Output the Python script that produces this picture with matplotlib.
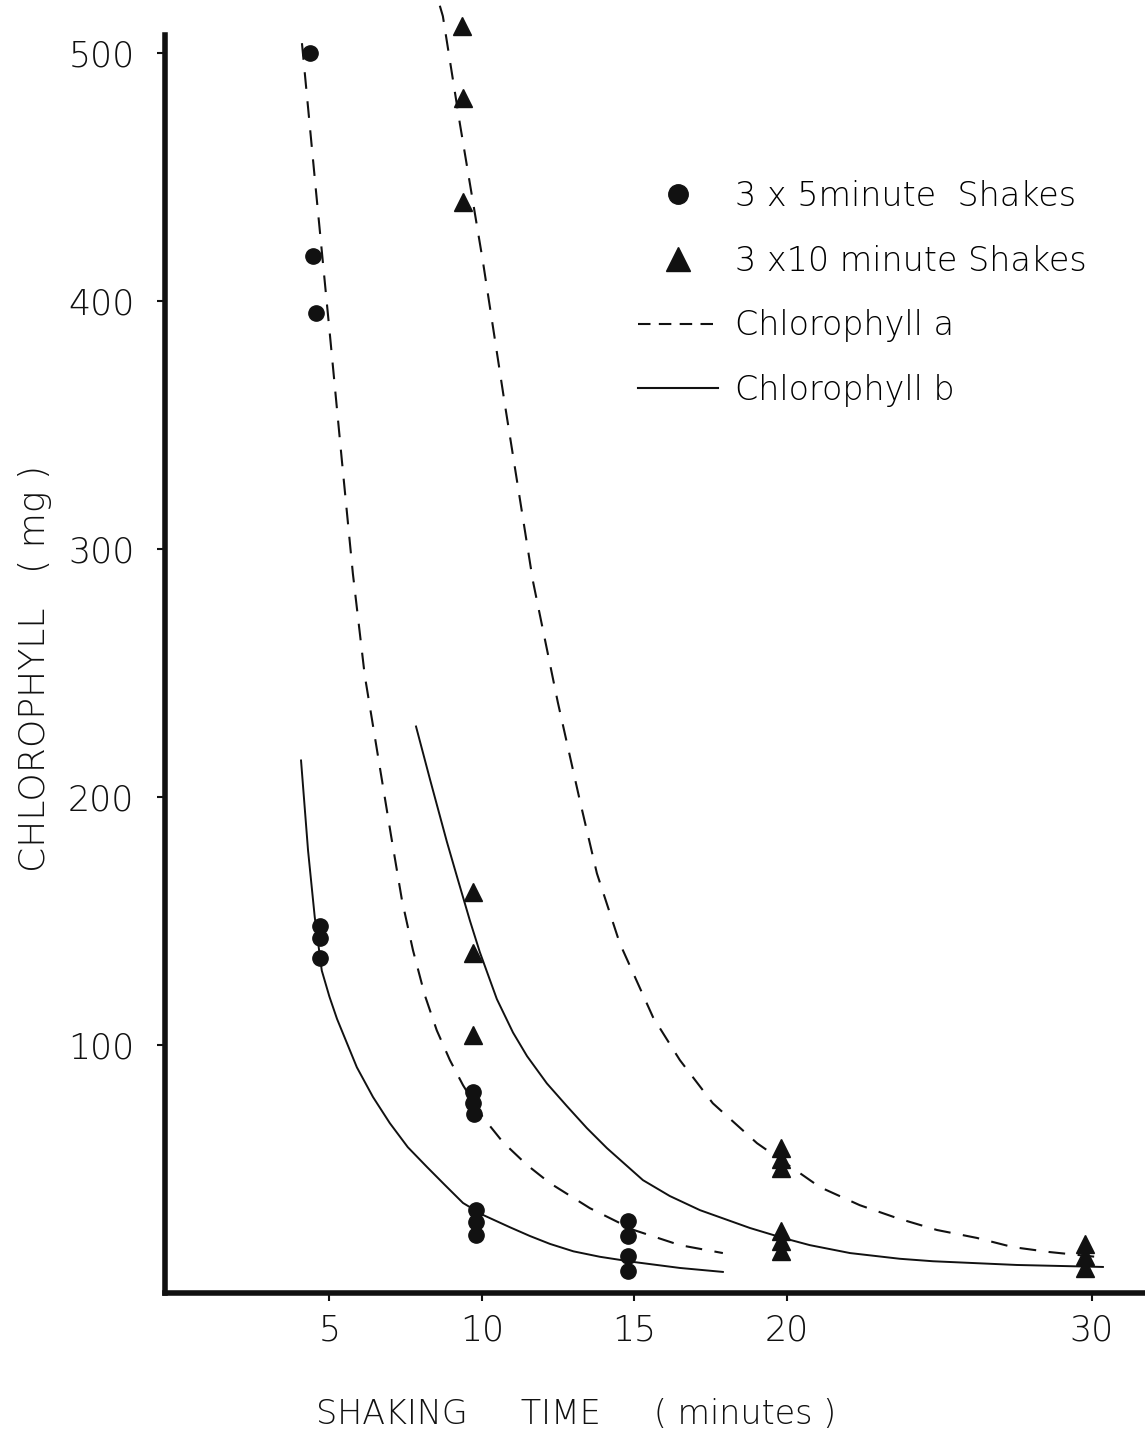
import numpy as np
import matplotlib.pyplot as plt
from matplotlib.lines import Line2D

plt.rcParams['font.family'] = ['DejaVu Sans']
plt.rcParams['font.weight'] = 'light'

# --- data ---
# 3 x 5 minute shakes (circles)
t5 = [4.36, 4.46, 4.56, 4.69, 4.69, 4.69, 9.70, 9.70, 9.75, 9.8, 9.8, 9.8,
      14.79, 14.79, 14.79, 14.79]
c5 = [500, 418, 395, 148, 143, 135, 81, 76.5, 72, 33.5, 28.5, 23.5,
      29, 23, 15, 9]

# 3 x 10 minute shakes (triangles)
t10 = [9.34, 9.38, 9.38, 9.70, 9.70, 9.72, 19.8, 19.8, 19.8, 19.8, 19.8, 19.8,
       29.77, 29.77, 29.77]
c10 = [511, 482, 440, 161.5, 137, 104, 58.5, 54, 50.5, 25, 21, 17,
       19.8, 15, 10]

# hand-fitted curves
a5_x = [4.10, 4.56, 5.02, 5.41, 5.77, 6.16, 6.59, 7.02, 7.38, 7.74, 8.13,
        8.52, 8.95, 9.38, 10.03, 10.69, 11.48, 12.23, 13.54, 14.98, 16.49,
        17.90]
a5_y = [503.9, 444.3, 385.9, 335.5, 290.0, 248.9, 216.7, 184.5, 158.3, 138.2,
        120.0, 105.9, 93.9, 83.8, 70.9, 60.8, 51.6, 44.3, 34.2, 25.4, 19.3,
        16.1]

b5_x = [4.07, 4.30, 4.52, 4.75, 5.00, 5.25, 5.90, 6.43, 6.98, 7.57, 8.20,
        8.79, 9.38, 10.03, 10.92, 11.57, 12.23, 13.0, 13.87, 14.98, 16.49,
        17.9]
b5_y = [214.7, 178.4, 151.5, 130.0, 119.5, 110.5, 91.0, 79.0, 68.5, 58.8,
        50.8, 43.5, 36.3, 31.5, 26.5, 23.0, 19.8, 16.8, 14.6, 12.5, 10.1, 8.5]

a10_x = [8.62, 8.72, 9.28, 10.03, 10.75, 11.67, 12.49, 13.21, 13.77, 14.52,
         15.61, 16.49, 17.57, 19.02, 21.08, 22.39, 23.61, 24.92, 26.23,
         27.41, 28.62, 30.2]
a10_y = [519, 514.8, 471.3, 416.1, 358.5, 287.2, 238.1, 198.6, 169.2, 141.0,
         111.2, 93.9, 76.5, 60.4, 42.7, 35.4, 30.2, 25.4, 22.2, 18.5, 16.5,
         14.5]

b10_x = [7.84, 8.30, 8.85, 9.18, 9.61, 9.93, 10.49, 11.02, 11.48, 12.13,
         12.79, 13.44, 14.10, 15.28, 16.16, 17.15, 18.79, 19.87, 20.75,
         22.07, 23.70, 24.79, 27.54, 30.36]
b10_y = [228.4, 207.0, 182.0, 168.0, 150.0, 137.5, 118.5, 105.0, 95.5, 84.5,
         75.3, 66.5, 58.4, 45.5, 39.1, 33.4, 26.2, 22.2, 19.3,
         16.1, 13.8, 12.8, 11.3, 10.5]

xticks = [5, 10, 15, 20, 30]
yticks = [100, 200, 300, 400, 500]

W, H = 1145, 1440
fig = plt.figure(figsize=(W / 100, H / 100), dpi=100)
ax = fig.add_axes([165 / W, 1 - 1293 / H, 1 - 165 / W, (1293 - 35) / H])
ax.set_xlim(-0.39, 31.74)
ax.set_ylim(0, 507.2)

ink = '#111111'
dash = (8, 6)
ax.plot(a5_x, a5_y, color=ink, lw=1.5, ls='--', dashes=dash, clip_on=False)
ax.plot(a10_x, a10_y, color=ink, lw=1.5, ls='--', dashes=dash, clip_on=False)
ax.plot(b5_x, b5_y, color=ink, lw=1.4, clip_on=False)
ax.plot(b10_x, b10_y, color=ink, lw=1.4, clip_on=False)

ax.plot(t5, c5, 'o', color=ink, ms=11, ls='none', clip_on=False)
ax.plot(t10, c10, '^', color=ink, ms=13, ls='none', clip_on=False)

for s in ['top', 'right']:
    ax.spines[s].set_visible(False)
ax.spines['left'].set_linewidth(4)
ax.spines['bottom'].set_linewidth(4)
ax.spines['left'].set_color(ink)
ax.spines['bottom'].set_color(ink)

ax.set_xticks(xticks)
ax.set_yticks(yticks)
ax.tick_params(axis='x', length=6, width=1.5, pad=9, labelsize=25, colors=ink)
ax.tick_params(axis='y', length=6, width=1.5, pad=16, labelsize=25, colors=ink)

fig.text(35 / W, 1 - 668 / H, 'CHLOROPHYLL   ( mg )', rotation=90,
         ha='center', va='center', fontsize=26, color=ink)
fig.text(576 / W, 1 - 1415 / H, 'SHAKING     TIME     ( minutes )',
         ha='center', va='center', fontsize=24, color=ink)

handles = [
    Line2D([], [], marker='o', ls='none', color=ink, ms=14),
    Line2D([], [], marker='^', ls='none', color=ink, ms=17),
    Line2D([], [], ls='--', dashes=(6, 4), color=ink, lw=1.5),
    Line2D([], [], ls='-', color=ink, lw=1.5),
]
labels = ['3 x 5minute  Shakes', '3 x10 minute Shakes',
          'Chlorophyll a', 'Chlorophyll b']
ax.legend(handles, labels, loc='upper left', frameon=False,
          bbox_to_anchor=(638 / W, 1 - 180 / H), bbox_transform=fig.transFigure,
          fontsize=24, handlelength=2.4, handletextpad=0.5, labelspacing=0.95,
          borderpad=0, borderaxespad=0)

fig.savefig('out.png', dpi=100, facecolor='white')
